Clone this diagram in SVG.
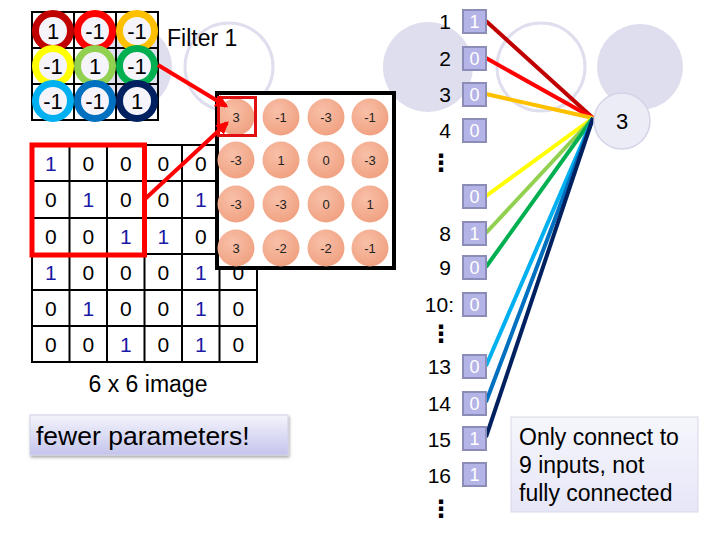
<svg xmlns="http://www.w3.org/2000/svg" width="720" height="540" viewBox="0 0 720 540">
<style>
text{font-family:"Liberation Sans",Arial,sans-serif;}
.bgf{fill:#dedeee;}
.bgo{fill:none;stroke:#dedeee;stroke-width:3;}
.ring{fill:#f4f4fa;stroke-width:7;}
.ft{font-size:22px;text-anchor:middle;fill:#000;}
.grid{fill:none;stroke:#000;stroke-width:2;}
.it{font-size:21px;text-anchor:middle;fill:#000;}
.it1{font-size:21px;text-anchor:middle;fill:#1a1aa6;}
.fm{fill:url(#sal);}
.fmt{font-size:13px;text-anchor:middle;fill:#222;}
.lbl{font-size:21px;text-anchor:end;fill:#000;}
.bx{fill:#b4b4e6;stroke:#8c8cb8;stroke-width:2;}
.bxt{font-size:18px;text-anchor:middle;fill:#fff;}
.cn{stroke-width:4;fill:none;}
.dots{font-family:"DejaVu Sans",sans-serif;font-size:24px;font-weight:bold;text-anchor:middle;fill:#000;}
</style>
<defs>
<radialGradient id="sal" cx="0.4" cy="0.35" r="0.7">
<stop offset="0" stop-color="#f8c0a8"/>
<stop offset="1" stop-color="#f0a080"/>
</radialGradient>
<linearGradient id="btn" x1="0" y1="0" x2="0" y2="1">
<stop offset="0" stop-color="#f4f4fc"/>
<stop offset="1" stop-color="#c4c4ec"/>
</linearGradient>
<linearGradient id="note" x1="0" y1="0" x2="0" y2="1">
<stop offset="0" stop-color="#f6f6fc"/>
<stop offset="1" stop-color="#e6e6f8"/>
</linearGradient>
<marker id="ar" viewBox="0 0 10 10" refX="8" refY="5" markerWidth="3.2" markerHeight="3.2" orient="auto"><path d="M0,0 L10,5 L0,10 z" fill="#ff0000"/></marker>
<filter id="sh" x="-10%" y="-20%" width="120%" height="150%"><feDropShadow dx="1" dy="2" stdDeviation="1.5" flood-color="#000" flood-opacity="0.35"/></filter>
</defs>
<g id="background">
<circle class="bgf" cx="128" cy="67" r="44"/>
<circle class="bgo" cx="229" cy="67" r="44"/>
<circle class="bgf" cx="428" cy="67" r="45"/>
<circle class="bgo" cx="541" cy="67" r="44"/>
<circle class="bgf" cx="640" cy="67" r="43"/>
</g>
<g id="filter">
<path class="grid" d="M32,12H158V120H32Z M74,12V120 M116,12V120 M32,48H158 M32,84H158"/>
<circle class="ring" cx="53" cy="31" r="17.5" stroke="#c00000"/>
<circle class="ring" cx="95" cy="31" r="17.5" stroke="#ff0000"/>
<circle class="ring" cx="137" cy="31" r="17.5" stroke="#ffc000"/>
<circle class="ring" cx="53" cy="66" r="17.5" stroke="#ffff00"/>
<circle class="ring" cx="95" cy="66" r="17.5" stroke="#92d050"/>
<circle class="ring" cx="137" cy="66" r="17.5" stroke="#00b050"/>
<circle class="ring" cx="53" cy="101" r="17.5" stroke="#00b0f0"/>
<circle class="ring" cx="95" cy="101" r="17.5" stroke="#0070c0"/>
<circle class="ring" cx="137" cy="101" r="17.5" stroke="#002060"/>
<text class="ft" x="53" y="39">1</text>
<text class="ft" x="95" y="39">-1</text>
<text class="ft" x="137" y="39">-1</text>
<text class="ft" x="53" y="74">-1</text>
<text class="ft" x="95" y="74">1</text>
<text class="ft" x="137" y="74">-1</text>
<text class="ft" x="53" y="109">-1</text>
<text class="ft" x="95" y="109">-1</text>
<text class="ft" x="137" y="109">1</text>
<text x="167" y="46" font-size="23">Filter 1</text>
</g>
<g id="image">
<path class="grid" d="M32,145H257V362H32Z M69.5,145V362 M107,145V362 M144.5,145V362 M182,145V362 M219.5,145V362 M32,181H257 M32,218H257 M32,254H257 M32,290H257 M32,326H257"/>
<text class="it1" x="50.75" y="171">1</text><text class="it" x="88.25" y="171">0</text><text class="it" x="125.75" y="171">0</text><text class="it" x="163.25" y="171">0</text><text class="it" x="200.75" y="171">0</text>
<text class="it" x="50.75" y="207">0</text><text class="it1" x="88.25" y="207">1</text><text class="it" x="125.75" y="207">0</text><text class="it" x="163.25" y="207">0</text><text class="it1" x="200.75" y="207">1</text>
<text class="it" x="50.75" y="244">0</text><text class="it" x="88.25" y="244">0</text><text class="it1" x="125.75" y="244">1</text><text class="it1" x="163.25" y="244">1</text><text class="it" x="200.75" y="244">0</text>
<text class="it1" x="50.75" y="280">1</text><text class="it" x="88.25" y="280">0</text><text class="it" x="125.75" y="280">0</text><text class="it" x="163.25" y="280">0</text><text class="it1" x="200.75" y="280">1</text><text class="it" x="238.25" y="280">0</text>
<text class="it" x="50.75" y="316">0</text><text class="it1" x="88.25" y="316">1</text><text class="it" x="125.75" y="316">0</text><text class="it" x="163.25" y="316">0</text><text class="it1" x="200.75" y="316">1</text><text class="it" x="238.25" y="316">0</text>
<text class="it" x="50.75" y="352">0</text><text class="it" x="88.25" y="352">0</text><text class="it1" x="125.75" y="352">1</text><text class="it" x="163.25" y="352">0</text><text class="it1" x="200.75" y="352">1</text><text class="it" x="238.25" y="352">0</text>
<rect x="32" y="145" width="112.5" height="110" fill="none" stroke="#ff0000" stroke-width="5"/>
<text x="148" y="392" font-size="23" text-anchor="middle">6 x 6 image</text>
</g>
<g id="feature-map">
<rect x="217" y="93" width="177" height="175" fill="#fff" stroke="#000" stroke-width="4"/>
<circle class="fm" cx="236" cy="117" r="18.5"/><circle class="fm" cx="281" cy="117" r="18.5"/><circle class="fm" cx="326" cy="117" r="18.5"/><circle class="fm" cx="370" cy="117" r="18.5"/>
<circle class="fm" cx="236" cy="160" r="18.5"/><circle class="fm" cx="281" cy="160" r="18.5"/><circle class="fm" cx="326" cy="160" r="18.5"/><circle class="fm" cx="370" cy="160" r="18.5"/>
<circle class="fm" cx="236" cy="204" r="18.5"/><circle class="fm" cx="281" cy="204" r="18.5"/><circle class="fm" cx="326" cy="204" r="18.5"/><circle class="fm" cx="370" cy="204" r="18.5"/>
<circle class="fm" cx="236" cy="248" r="18.5"/><circle class="fm" cx="281" cy="248" r="18.5"/><circle class="fm" cx="326" cy="248" r="18.5"/><circle class="fm" cx="370" cy="248" r="18.5"/>
<text class="fmt" x="236" y="122">3</text><text class="fmt" x="281" y="122">-1</text><text class="fmt" x="326" y="122">-3</text><text class="fmt" x="370" y="122">-1</text>
<text class="fmt" x="236" y="165">-3</text><text class="fmt" x="281" y="165">1</text><text class="fmt" x="326" y="165">0</text><text class="fmt" x="370" y="165">-3</text>
<text class="fmt" x="236" y="209">-3</text><text class="fmt" x="281" y="209">-3</text><text class="fmt" x="326" y="209">0</text><text class="fmt" x="370" y="209">1</text>
<text class="fmt" x="236" y="253">3</text><text class="fmt" x="281" y="253">-2</text><text class="fmt" x="326" y="253">-2</text><text class="fmt" x="370" y="253">-1</text>
<rect x="218.5" y="97.5" width="37" height="38" fill="none" stroke="#e01010" stroke-width="3"/>
</g>
<g id="red-arrows">
<line x1="158" y1="65" x2="226" y2="106" stroke="#ff0000" stroke-width="4" marker-end="url(#ar)"/>
<line x1="145" y1="199" x2="227" y2="123" stroke="#ff0000" stroke-width="4" marker-end="url(#ar)"/>
</g>
<g id="fewer-parameters">
<rect x="30" y="415" width="258" height="40" fill="url(#btn)" stroke="#d0d0e8" stroke-width="1" filter="url(#sh)"/>
<text x="36" y="445" font-size="26.5">fewer parameters!</text>
</g>
<g id="connectors">
<line class="cn" x1="486" y1="21" x2="593" y2="118" stroke="#c00000"/>
<line class="cn" x1="486" y1="58" x2="593" y2="118" stroke="#ff0000"/>
<line class="cn" x1="486" y1="94" x2="593" y2="118" stroke="#ffc000"/>
<line class="cn" x1="486" y1="196" x2="593" y2="118" stroke="#ffff00"/>
<line class="cn" x1="486" y1="233" x2="593" y2="118" stroke="#92d050"/>
<line class="cn" x1="486" y1="267" x2="593" y2="118" stroke="#00b050"/>
<line class="cn" x1="486" y1="366" x2="593" y2="118" stroke="#00b0f0"/>
<line class="cn" x1="486" y1="402" x2="593" y2="118" stroke="#0070c0"/>
<line class="cn" x1="486" y1="437" x2="593" y2="118" stroke="#002060"/>
</g>
<g id="inputs">
<text class="lbl" x="451" y="29">1</text><rect class="bx" x="463" y="10" width="23" height="23"/><text class="bxt" x="474.5" y="28">1</text>
<text class="lbl" x="451" y="66">2</text><rect class="bx" x="463" y="47" width="23" height="23"/><text class="bxt" x="474.5" y="65">0</text>
<text class="lbl" x="451" y="102">3</text><rect class="bx" x="463" y="83" width="23" height="23"/><text class="bxt" x="474.5" y="101">0</text>
<text class="lbl" x="451" y="138">4</text><rect class="bx" x="463" y="119" width="23" height="23"/><text class="bxt" x="474.5" y="137">0</text>
<text class="dots" x="441" y="171">⋮</text>
<rect class="bx" x="463" y="185" width="23" height="23"/><text class="bxt" x="474.5" y="203">0</text>
<text class="lbl" x="451" y="241">8</text><rect class="bx" x="463" y="222" width="23" height="23"/><text class="bxt" x="474.5" y="240">1</text>
<text class="lbl" x="451" y="275">9</text><rect class="bx" x="463" y="256" width="23" height="23"/><text class="bxt" x="474.5" y="274">0</text>
<text class="lbl" x="454" y="312">10:</text><rect class="bx" x="463" y="293" width="23" height="23"/><text class="bxt" x="474.5" y="311">0</text>
<text class="dots" x="441" y="342">⋮</text>
<text class="lbl" x="451" y="374">13</text><rect class="bx" x="463" y="355" width="23" height="23"/><text class="bxt" x="474.5" y="373">0</text>
<text class="lbl" x="451" y="411">14</text><rect class="bx" x="463" y="392" width="23" height="23"/><text class="bxt" x="474.5" y="410">0</text>
<text class="lbl" x="451" y="447">15</text><rect class="bx" x="463" y="427" width="23" height="23"/><text class="bxt" x="474.5" y="445">1</text>
<text class="lbl" x="451" y="483">16</text><rect class="bx" x="463" y="463" width="23" height="23"/><text class="bxt" x="474.5" y="481">1</text>
<text class="dots" x="441" y="517">⋮</text>
</g>
<g id="node-3">
<circle cx="622" cy="121" r="28" fill="#ececf6" stroke="#d4d4e8" stroke-width="1.5"/>
<text x="622" y="129" font-size="22" text-anchor="middle">3</text>
</g>
<g id="note">
<rect x="511" y="417" width="187" height="95" fill="url(#note)" stroke="#d8d8e8" stroke-width="1"/>
<text x="519" y="445" font-size="23">Only connect to</text>
<text x="519" y="473" font-size="23">9 inputs, not</text>
<text x="519" y="501" font-size="23">fully connected</text>
</g>
</svg>
